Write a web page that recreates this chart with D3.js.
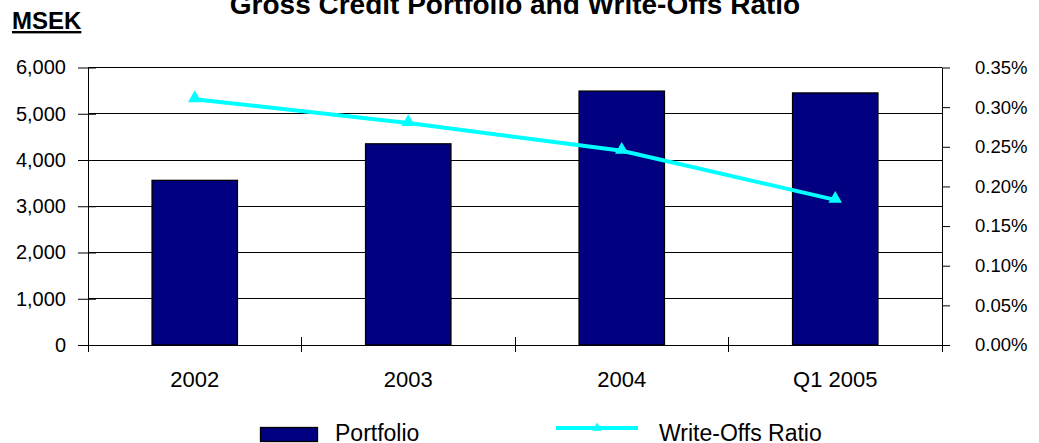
<!DOCTYPE html>
<html>
<head>
<meta charset="utf-8">
<script src="https://cdn.jsdelivr.net/npm/d3@7"></script>
<style>
  html, body { margin: 0; padding: 0; background: #fff; }
  svg { display: block; font-family: "Liberation Sans", Arial, sans-serif; }
</style>
</head>
<body>
<svg id="chart" width="1039" height="443"></svg>
<script>
// Gross credit portfolio (MSEK) and write-offs ratio (%)
const categories = ["2002", "2003", "2004", "Q1 2005"];
const portfolio = [3560, 4350, 5490, 5450];
const writeOffsRatio = [0.31, 0.28, 0.245, 0.183];
const leftTicks = [0, 1000, 2000, 3000, 4000, 5000, 6000];
const rightTicks = [0, 0.05, 0.10, 0.15, 0.20, 0.25, 0.30, 0.35];

const FONT = "Liberation Sans, Arial, sans-serif";
const svg = d3.select("#chart");
const plot = { left: 88, right: 942, top: 67.5, bottom: 345 };

const x = d3.scaleBand().domain(categories).range([plot.left, plot.right]).paddingInner(0).paddingOuter(0);
const yL = d3.scaleLinear().domain([0, 6000]).range([plot.bottom, plot.top]);
const yR = d3.scaleLinear().domain([0, 0.35]).range([plot.bottom, plot.top]);

const fmtL = d3.format(",");
const fmtR = d => d.toFixed(2) + "%";

// Horizontal gridlines
svg.append("g").selectAll("line").data(leftTicks).join("line")
  .attr("x1", plot.left).attr("x2", plot.right)
  .attr("y1", d => yL(d)).attr("y2", d => yL(d))
  .attr("stroke", "#000").attr("stroke-width", 1).attr("shape-rendering", "crispEdges");

// Bars
const barW = x.bandwidth() * 0.4;
svg.append("g").selectAll("rect").data(portfolio).join("rect")
  .attr("x", (d, i) => x(categories[i]) + (x.bandwidth() - barW) / 2)
  .attr("y", d => yL(d))
  .attr("width", barW)
  .attr("height", d => yL(0) - yL(d))
  .attr("fill", "#000080").attr("stroke", "#000").attr("stroke-width", 1.3);

// Left axis
const leftAxis = d3.axisLeft(yL).tickValues(leftTicks).tickFormat(fmtL).tickSizeInner(10).tickSizeOuter(0).tickPadding(12);
const gL = svg.append("g").attr("transform", `translate(${plot.left},0)`).call(leftAxis);
gL.select(".domain").attr("stroke", "#000");
gL.selectAll(".tick line").attr("stroke", "#000").attr("x2", 8).attr("x1", -10);
gL.selectAll("text").attr("font-size", 20).attr("fill", "#000").attr("font-family", FONT);

// Right axis
const rightAxis = d3.axisRight(yR).tickValues(rightTicks).tickFormat(fmtR).tickSizeInner(8).tickSizeOuter(0).tickPadding(25);
const gR = svg.append("g").attr("transform", `translate(${plot.right},0)`).call(rightAxis);
gR.select(".domain").attr("stroke", "#000");
gR.selectAll(".tick line").attr("stroke", "#000");
gR.selectAll("text").attr("font-size", 18.5).attr("fill", "#000").attr("font-family", FONT);

// Bottom axis: ticks at category boundaries, labels at centres
const gB = svg.append("g");
gB.append("line").attr("x1", plot.left).attr("x2", plot.right)
  .attr("y1", plot.bottom).attr("y2", plot.bottom).attr("stroke", "#000").attr("shape-rendering", "crispEdges");
const bounds = categories.map(c => x(c)).concat([plot.right]);
gB.selectAll("line.tk").data(bounds).join("line").attr("class", "tk")
  .attr("x1", d => d).attr("x2", d => d)
  .attr("y1", plot.bottom - 8).attr("y2", plot.bottom + 7)
  .attr("stroke", "#000").attr("shape-rendering", "crispEdges");
gB.selectAll("text").data(categories).join("text")
  .attr("x", d => x(d) + x.bandwidth() / 2).attr("y", 387)
  .attr("text-anchor", "middle").attr("font-size", 22).text(d => d);

// Write-offs ratio line
const cx = (d, i) => x(categories[i]) + x.bandwidth() / 2;
const line = d3.line().x(cx).y(d => yR(d));
svg.append("path").datum(writeOffsRatio).attr("d", line)
  .attr("fill", "none").attr("stroke", "#00FFFF").attr("stroke-width", 4);
const tri = d3.symbol().type(d3.symbolTriangle).size(80);
svg.append("g").selectAll("path").data(writeOffsRatio).join("path")
  .attr("d", tri)
  .attr("transform", (d, i) => `translate(${cx(d, i)},${yR(d) - 1})`)
  .attr("fill", "#00FFFF");

// Title and unit label
svg.append("text").attr("x", 515).attr("y", 14).attr("text-anchor", "middle")
  .attr("font-size", 28).attr("font-weight", "bold").text("Gross Credit Portfolio and Write-Offs Ratio");
svg.append("text").attr("x", 12).attr("y", 29)
  .attr("font-size", 24).attr("font-weight", "bold").attr("text-decoration", "underline").text("MSEK");

// Legend
const lg = svg.append("g");
lg.append("rect").attr("x", 260.5).attr("y", 427.5).attr("width", 57).attr("height", 14)
  .attr("fill", "#000080").attr("stroke", "#000").attr("stroke-width", 1.3);
lg.append("text").attr("x", 335).attr("y", 441).attr("font-size", 23).text("Portfolio");
lg.append("line").attr("x1", 556).attr("x2", 638).attr("y1", 428).attr("y2", 428)
  .attr("stroke", "#00FFFF").attr("stroke-width", 4);
lg.append("path").attr("d", d3.symbol().type(d3.symbolTriangle).size(40))
  .attr("transform", "translate(597,428)").attr("fill", "#00FFFF");
lg.append("text").attr("x", 659).attr("y", 441).attr("font-size", 23).text("Write-Offs Ratio");
</script>
</body>
</html>
